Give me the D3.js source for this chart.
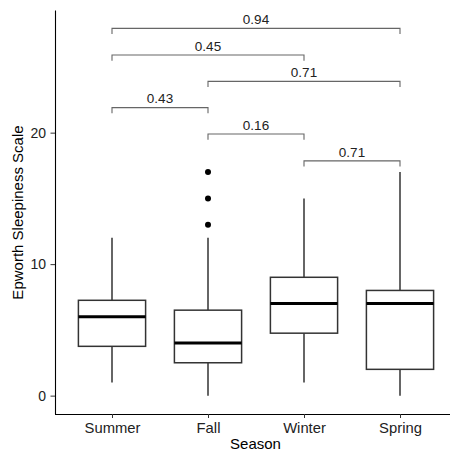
<!DOCTYPE html>
<html>
<head>
<meta charset="utf-8">
<script src="https://cdn.jsdelivr.net/npm/d3@7"></script>
<style>
  body { margin: 0; background: #fff; }
  svg { display: block; font-family: "Liberation Sans", Arial, Helvetica, sans-serif; }
</style>
</head>
<body>
<svg id="chart" width="450" height="452"></svg>
<script>
// ---- data ----
const categories = ["Summer", "Fall", "Winter", "Spring"];
const whiskerLow  = [1, 0, 1, 0];
const q1          = [3.75, 2.5, 4.75, 2];
const median      = [6, 4, 7, 7];
const q3          = [7.25, 6.5, 9, 8];
const whiskerHigh = [12, 12, 15, 17];
const outliers    = [[], [13, 15, 17], [], []];
const yTicks      = [0, 10, 20];
const compFrom    = ["Summer", "Summer", "Fall", "Summer", "Fall", "Winter"];
const compTo      = ["Spring", "Winter", "Spring", "Fall", "Winter", "Spring"];
const compLabel   = ["0.94", "0.45", "0.71", "0.43", "0.16", "0.71"];
const compY       = [27.93, 25.9, 23.9, 21.9, 19.9, 17.85];

// ---- layout ----
const svg = d3.select("#chart");
const mLeft = 55, mTop = 10, mBottom = 414;
const step = 96;
const x = d3.scalePoint().domain(categories).range([112, 112 + step * 3]);
const y = d3.scaleLinear().domain([-1.3965, 29.3265]).range([mBottom, mTop]);
const boxW = 0.7 * step;
const dark = "#333333";
const FONT = "Liberation Sans, Arial, sans-serif";

// boxes
const g = svg.append("g");
categories.forEach((c, i) => {
  const cx = x(c);
  g.append("line").attr("x1", cx).attr("x2", cx)
    .attr("y1", y(q3[i])).attr("y2", y(whiskerHigh[i]))
    .attr("stroke", dark).attr("stroke-width", 1.5);
  g.append("line").attr("x1", cx).attr("x2", cx)
    .attr("y1", y(q1[i])).attr("y2", y(whiskerLow[i]))
    .attr("stroke", dark).attr("stroke-width", 1.5);
  g.append("rect").attr("x", cx - boxW / 2).attr("width", boxW)
    .attr("y", y(q3[i])).attr("height", y(q1[i]) - y(q3[i]))
    .attr("fill", "#fff").attr("stroke", dark).attr("stroke-width", 1.5);
  g.append("line").attr("x1", cx - boxW / 2).attr("x2", cx + boxW / 2)
    .attr("y1", y(median[i])).attr("y2", y(median[i]))
    .attr("stroke", "#000").attr("stroke-width", 3);
  outliers[i].forEach(v => {
    g.append("circle").attr("cx", cx).attr("cy", y(v)).attr("r", 3).attr("fill", "#000");
  });
});

// comparison brackets
const tickLen = 5.7;
const bg = svg.append("g");
compFrom.forEach((f, i) => {
  const x1 = x(f), x2 = x(compTo[i]), yy = y(compY[i]);
  bg.append("path")
    .attr("d", `M${x1},${yy + tickLen}V${yy}H${x2}V${yy + tickLen}`)
    .attr("fill", "none").attr("stroke", "#666").attr("stroke-width", 1.1);
  bg.append("text").attr("x", (x1 + x2) / 2).attr("y", yy - 4.2)
    .attr("text-anchor", "middle").attr("font-size", 13.5).attr("fill", "#222")
    .attr("font-family", FONT)
    .text(compLabel[i]);
});

// y axis
const yAxis = svg.append("g").attr("transform", `translate(${mLeft},0)`)
  .call(d3.axisLeft(y).tickValues(yTicks).tickSize(4.5).tickPadding(4.5).tickSizeOuter(0));
yAxis.select(".domain").attr("stroke", "#000").attr("stroke-width", 1.1);
yAxis.selectAll(".tick line").attr("stroke", "#333");
yAxis.selectAll(".tick text").attr("font-size", 14).attr("fill", "#222")
  .attr("font-family", FONT);

// x axis
const xAxis = svg.append("g").attr("transform", `translate(0,${mBottom})`)
  .call(d3.axisBottom(x).tickSize(4).tickPadding(4).tickSizeOuter(0));
xAxis.select(".domain").attr("d", `M${mLeft},0.5H450`).attr("stroke", "#000").attr("stroke-width", 1.1);
xAxis.selectAll(".tick line").attr("stroke", "#333");
xAxis.selectAll(".tick text").attr("font-size", 14.8).attr("fill", "#222")
  .attr("font-family", FONT);

// axis titles
svg.append("text").attr("x", 255.5).attr("y", 449)
  .attr("text-anchor", "middle").attr("font-size", 15).attr("fill", "#000")
  .attr("font-family", FONT).text("Season");
svg.append("text").attr("transform", `translate(23,212.5) rotate(-90)`)
  .attr("text-anchor", "middle").attr("font-size", 15).attr("fill", "#000")
  .attr("font-family", FONT).text("Epworth Sleepiness Scale");
</script>
</body>
</html>
